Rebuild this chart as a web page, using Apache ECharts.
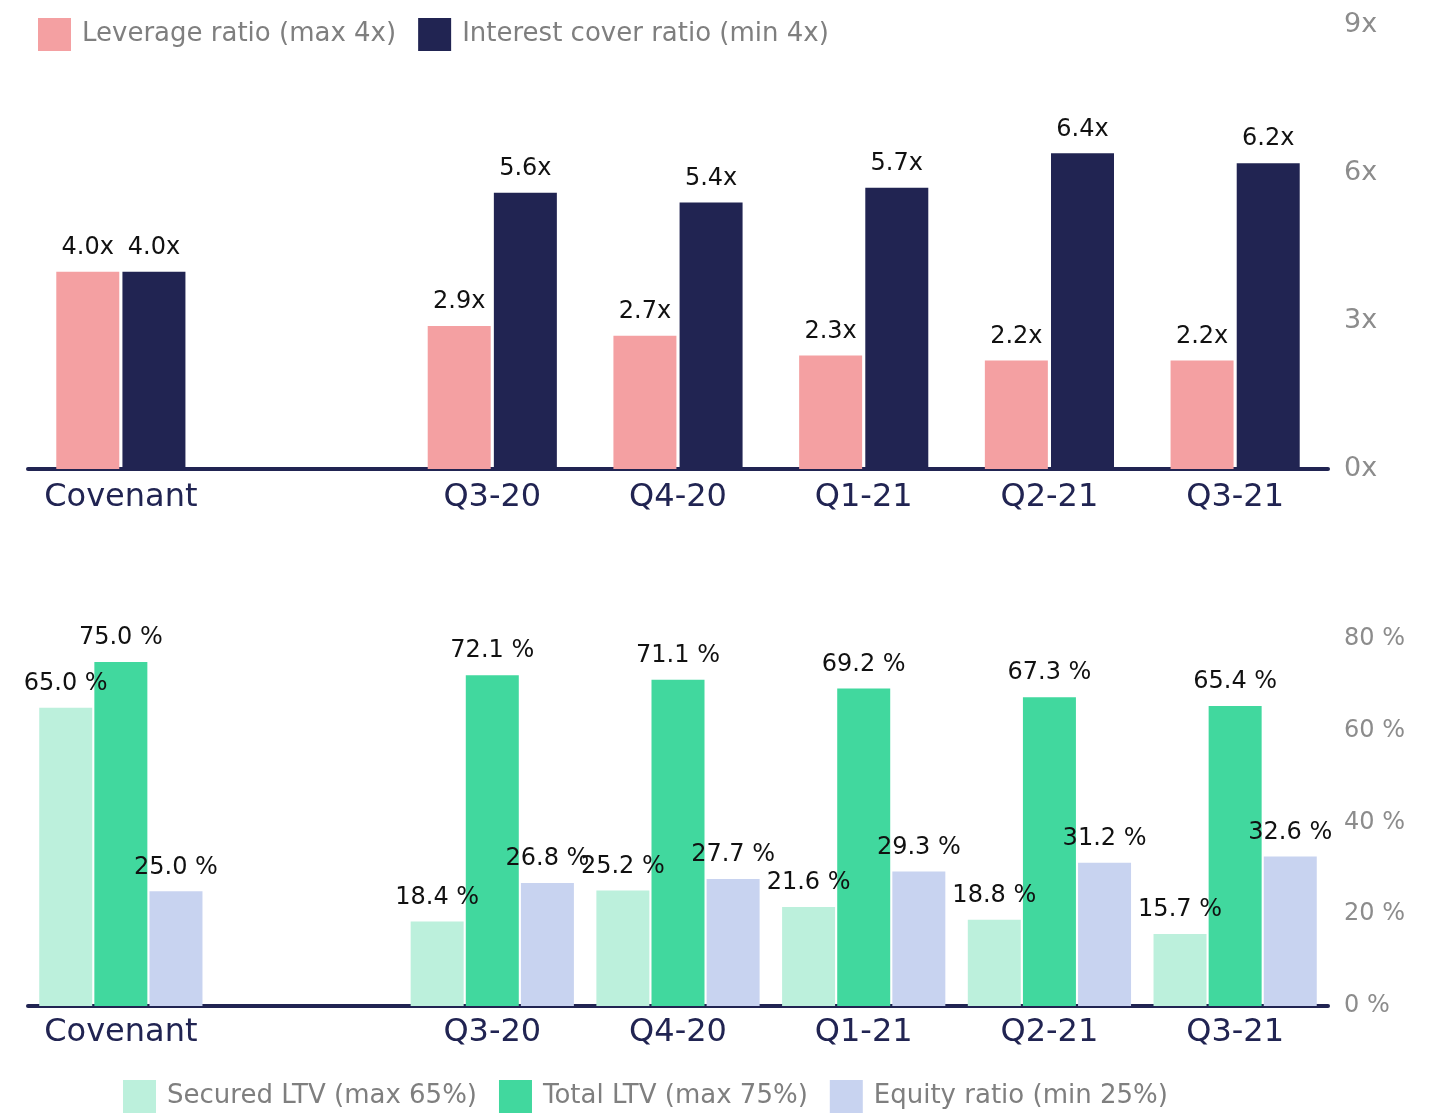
<!DOCTYPE html>
<html>
<head>
<meta charset="utf-8">
<script src="https://cdn.jsdelivr.net/npm/echarts@6/dist/echarts.min.js"></script>
<style>
html,body{margin:0;padding:0;background:#fff;}
#chart{width:1431px;height:1114px;}
</style>
</head>
<body>
<div id="chart"></div>
<script>
const categories = ['Covenant', '', 'Q3-20', 'Q4-20', 'Q1-21', 'Q2-21', 'Q3-21'];
const leverageRatio = [4.0, null, 2.9, 2.7, 2.3, 2.2, 2.2];
const interestCover = [4.0, null, 5.6, 5.4, 5.7, 6.4, 6.2];
const securedLTV = [65.0, null, 18.4, 25.2, 21.6, 18.8, 15.7];
const totalLTV = [75.0, null, 72.1, 71.1, 69.2, 67.3, 65.4];
const equityRatio = [25.0, null, 26.8, 27.7, 29.3, 31.2, 32.6];
const topTicks = [0, 3, 6, 9];
const bottomTicks = [0, 20, 40, 60, 80];

const FONT = '"DejaVu Sans", sans-serif';
const NAVY = '#212452';

function barLabel(fmt) {
  return {
    show: true, position: 'top', distance: 12,
    fontFamily: FONT, fontSize: 24, color: '#111',
    formatter: fmt
  };
}

const legendText = {fontFamily: FONT, fontSize: 26, color: '#7f7f7f', padding: [0, 0, 10, 6]};

const chart = echarts.init(document.getElementById('chart'), null, {renderer: 'canvas'});
chart.setOption({
  animation: false,
  legend: [
    {
      data: ['Leverage ratio (max 4x)', 'Interest cover ratio (min 4x)'],
      left: 38, top: 18, padding: 0, itemWidth: 33, itemHeight: 33, itemGap: 22,
      icon: 'rect', textStyle: legendText
    },
    {
      data: ['Secured LTV (max 65%)', 'Total LTV (max 75%)', 'Equity ratio (min 25%)'],
      left: 123, top: 1080, padding: 0, itemWidth: 33, itemHeight: 33, itemGap: 22,
      icon: 'rect', textStyle: legendText
    }
  ],
  grid: [
    {left: 28, right: 103, top: 25, bottom: 1114 - 469},
    {left: 28, right: 103, top: 639, bottom: 1114 - 1006}
  ],
  xAxis: [
    {
      type: 'category', gridIndex: 0, data: categories,
      axisLine: {lineStyle: {color: NAVY, width: 4}},
      axisTick: {show: false},
      axisLabel: {fontFamily: FONT, fontSize: 32, color: NAVY, margin: 13, interval: 0}
    },
    {
      type: 'category', gridIndex: 1, data: categories,
      axisLine: {lineStyle: {color: NAVY, width: 4}},
      axisTick: {show: false},
      axisLabel: {fontFamily: FONT, fontSize: 32, color: NAVY, margin: 11, interval: 0}
    }
  ],
  yAxis: [
    {
      type: 'value', gridIndex: 0, position: 'right',
      min: topTicks[0], max: topTicks[topTicks.length - 1], interval: 3,
      splitLine: {show: false}, axisLine: {show: false}, axisTick: {show: false},
      axisLabel: {fontFamily: FONT, fontSize: 27, color: '#8c8c8c', margin: 16,
        padding: [0, 0, 15, 0], formatter: v => v + 'x'}
    },
    {
      type: 'value', gridIndex: 1, position: 'right',
      min: bottomTicks[0], max: bottomTicks[bottomTicks.length - 1], interval: 20,
      splitLine: {show: false}, axisLine: {show: false}, axisTick: {show: false},
      axisLabel: {fontFamily: FONT, fontSize: 24, color: '#8c8c8c', margin: 16,
        padding: [0, 0, 14, 0], formatter: v => v + ' %'}
    }
  ],
  series: [
    {
      name: 'Leverage ratio (max 4x)', type: 'bar', xAxisIndex: 0, yAxisIndex: 0,
      data: leverageRatio, barWidth: 63, barGap: '5%',
      itemStyle: {color: '#f4a0a2'},
      label: barLabel(p => p.value.toFixed(1) + 'x')
    },
    {
      name: 'Interest cover ratio (min 4x)', type: 'bar', xAxisIndex: 0, yAxisIndex: 0,
      data: interestCover, barWidth: 63, barGap: '5%',
      itemStyle: {color: NAVY},
      label: barLabel(p => p.value.toFixed(1) + 'x')
    },
    {
      name: 'Secured LTV (max 65%)', type: 'bar', xAxisIndex: 1, yAxisIndex: 1,
      data: securedLTV, barWidth: 53, barGap: '4%',
      itemStyle: {color: '#bcf0dc'},
      label: barLabel(p => p.value.toFixed(1) + ' %')
    },
    {
      name: 'Total LTV (max 75%)', type: 'bar', xAxisIndex: 1, yAxisIndex: 1,
      data: totalLTV, barWidth: 53, barGap: '4%',
      itemStyle: {color: '#41d89e'},
      label: barLabel(p => p.value.toFixed(1) + ' %')
    },
    {
      name: 'Equity ratio (min 25%)', type: 'bar', xAxisIndex: 1, yAxisIndex: 1,
      data: equityRatio, barWidth: 53, barGap: '4%',
      itemStyle: {color: '#c8d3f0'},
      label: barLabel(p => p.value.toFixed(1) + ' %')
    }
  ]
});
</script>
</body>
</html>
